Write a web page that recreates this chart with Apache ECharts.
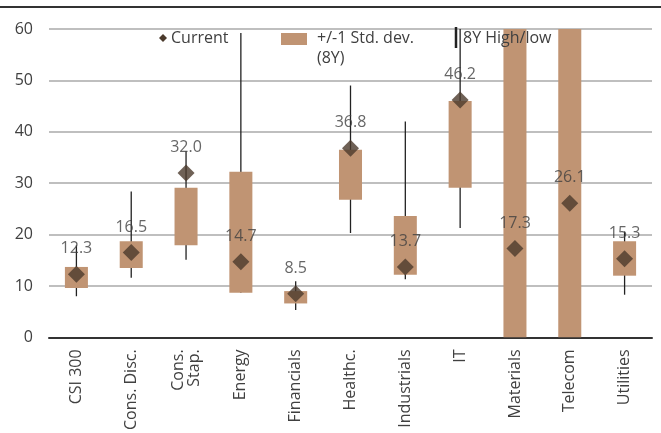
<!DOCTYPE html>
<html>
<head>
<meta charset="utf-8">
<script src="https://cdn.jsdelivr.net/npm/echarts@6/dist/echarts.min.js"></script>
<style>
    html, body { margin: 0; padding: 0; background: #fff; }
    #chart { width: 661px; height: 433px; }
</style>
</head>
<body>
<div id="chart"></div>
<script>
// sectors
const categories = ['CSI 300', 'Cons. Disc.', 'Cons.\nStap.', 'Energy', 'Financials', 'Healthc.', 'Industrials', 'IT', 'Materials', 'Telecom', 'Utilities']
// current value (diamond)
const current = [12.3, 16.5, 32.0, 14.7, 8.5, 36.8, 13.7, 46.2, 17.3, 26.1, 15.3]
// +/-1 std. dev. (8Y) band
const bandLow = [9.6, 13.5, 17.9, 8.7, 6.6, 26.8, 12.2, 29.1, 0, 0, 12.0]
const bandHigh = [13.7, 18.7, 29.1, 32.2, 9.0, 36.5, 23.6, 46.0, 65, 65, 18.7]
// 8Y high / low
const rangeLow = [8.0, 11.6, 15.1, 8.7, 5.3, 20.3, 11.3, 21.3, null, null, 8.3]
const rangeHigh = [17.9, 28.4, 36.2, 59.2, 10.9, 49.0, 42.0, 60, null, null, 20.6]
const yTicks = [0, 10, 20, 30, 40, 50, 60]

const textColor = '#404040'
const boxColor = '#c09473'
const dotColor = '#4b3a2c'
const font = 'Open Sans'

const chart = echarts.init(document.getElementById('chart'))

chart.setOption({
    animation: false,
    textStyle: { fontFamily: font },
    grid: { left: 49, right: 9, top: 29, bottom: 95 },
    xAxis: {
        type: 'category',
        data: categories,
        axisLine: { lineStyle: { color: '#333', width: 2 } },
        axisTick: { show: false },
        axisLabel: { rotate: 90, margin: 12, color: textColor, fontSize: 16, fontFamily: font, lineHeight: 16, interval: 0 }
    },
    yAxis: {
        type: 'value',
        min: yTicks[0],
        max: yTicks[yTicks.length - 1],
        interval: 10,
        axisLine: { show: false },
        axisTick: { show: false },
        axisLabel: { color: textColor, fontSize: 16, fontFamily: font, margin: 16 },
        splitLine: { lineStyle: { color: '#aaa', width: 1.5 } }
    },
    series: [
        {
            name: '8Y High/low',
            type: 'custom',
            z: 1,
            data: categories.map((c, i) => [i, rangeLow[i], rangeHigh[i]]),
            renderItem: (params, api) => {
                if (api.value(1) == null || isNaN(api.value(1))) return
                const top = api.coord([api.value(0), api.value(2)])
                const bottom = api.coord([api.value(0), api.value(1)])
                return {
                    type: 'line',
                    shape: { x1: top[0], y1: top[1], x2: bottom[0], y2: bottom[1] },
                    style: { stroke: '#222', lineWidth: 1.3 }
                }
            }
        },
        {
            name: '+/-1 Std. dev. (8Y)',
            type: 'custom',
            z: 2,
            data: categories.map((c, i) => [i, bandLow[i], bandHigh[i]]),
            renderItem: (params, api) => {
                const top = api.coord([api.value(0), api.value(2)])
                const bottom = api.coord([api.value(0), api.value(1)])
                const w = api.size([1, 0])[0] * 0.42
                const rect = echarts.graphic.clipRectByRect(
                    { x: top[0] - w / 2, y: top[1], width: w, height: bottom[1] - top[1] },
                    { x: params.coordSys.x, y: params.coordSys.y, width: params.coordSys.width, height: params.coordSys.height }
                )
                return rect && { type: 'rect', shape: rect, style: { fill: boxColor } }
            }
        },
        {
            name: 'Current',
            type: 'scatter',
            z: 3,
            symbol: 'diamond',
            symbolSize: 17,
            itemStyle: { color: dotColor },
            data: current,
            label: {
                show: true,
                position: 'top',
                distance: 9,
                color: textColor,
                fontSize: 16,
                fontFamily: font,
                formatter: p => p.value.toFixed(1)
            }
        }
    ],
    graphic: [
        { type: 'line', shape: { x1: 0, y1: 7, x2: 661, y2: 7 }, style: { stroke: '#333', lineWidth: 2 } },
        { type: 'polygon', shape: { points: [[163, 34], [167, 38], [163, 42], [159, 38]] }, style: { fill: dotColor }, z: 10 },
        { type: 'text', x: 171, y: 38, style: { text: 'Current', fill: textColor, font: '16px "Open Sans"', verticalAlign: 'middle' }, z: 10 },
        { type: 'rect', shape: { x: 281, y: 33, width: 26, height: 12 }, style: { fill: boxColor }, z: 10 },
        { type: 'text', x: 317, y: 28, style: { text: '+/-1 Std. dev.\n(8Y)', fill: textColor, font: '16px "Open Sans"', lineHeight: 20, verticalAlign: 'top' }, z: 10 },
        { type: 'line', shape: { x1: 456, y1: 27, x2: 456, y2: 48 }, style: { stroke: '#222', lineWidth: 2.5 }, z: 10 },
        { type: 'text', x: 463, y: 38, style: { text: '8Y High/low', fill: textColor, font: '16px "Open Sans"', verticalAlign: 'middle' }, z: 10 }
    ]
})
</script>
</body>
</html>
